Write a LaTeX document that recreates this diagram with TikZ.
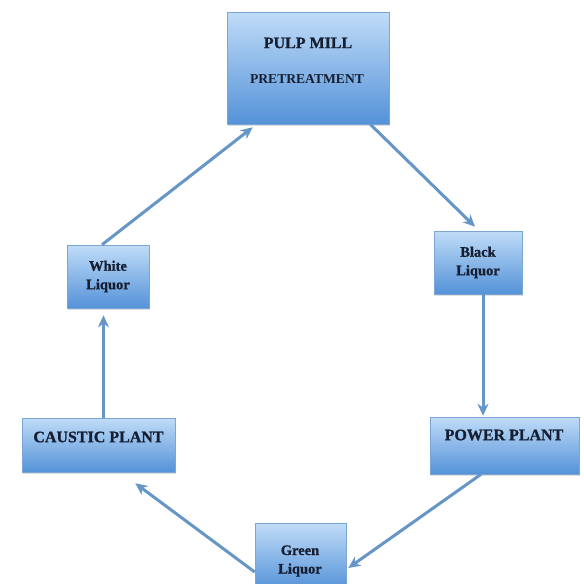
\documentclass[tikz,border=0pt]{standalone}
\usepackage{fontspec}
\setmainfont{Liberation Serif}
\newfontfamily\heavy[FakeBold=0.9]{Liberation Serif}
\usetikzlibrary{arrows.meta,shadows,calc}
\definecolor{boxtop}{RGB}{192,220,248}
\definecolor{boxbot}{RGB}{84,146,216}
\definecolor{boxedge}{RGB}{122,166,212}
\definecolor{arrowc}{RGB}{102,150,198}
\definecolor{txt}{RGB}{22,30,50}
\begin{document}
\begin{tikzpicture}[x=1pt,y=-1pt,
  box/.style={rectangle, draw=boxedge, line width=0.6pt, top color=boxtop, bottom color=boxbot,
    inner sep=0pt, drop shadow={opacity=0.25, shadow xshift=1pt, shadow yshift=-1.5pt}},
  flow/.style={draw=arrowc, line width=3pt, -{Stealth[length=12pt,width=11pt]}},
  big/.style={text=txt, font=\heavy\bfseries\fontsize{16}{18}\selectfont},
  small/.style={text=txt, font=\heavy\bfseries\fontsize{14.5}{18.5}\selectfont, align=center}]
\clip (0,0) rectangle (584,584);
\fill[white] (0,0) rectangle (584,584);
% boxes
\node[box, minimum width=162pt, minimum height=112pt] (pulp) at (308,68) {};
\node[big] (pulpt) at (308,43) {PULP MILL};
\node[text=txt, font=\bfseries\fontsize{13.6}{15}\selectfont] (pret) at (307,79) {PRETREATMENT};
\node[box, minimum width=82pt, minimum height=63pt, small] (white) at (108,276.5) {White\\Liquor};
\node[box, minimum width=88pt, minimum height=63pt, small] (black) at (478,262.5) {Black\\Liquor};
\node[box, minimum width=153pt, minimum height=54pt] (caustic) at (98.5,445) {};
\node[big] (caustict) at (98.5,437) {CAUSTIC PLANT};
\node[box, minimum width=149pt, minimum height=57pt] (power) at (504.5,445.5) {};
\node[big] (powert) at (504,435) {POWER PLANT};
\node[box, minimum width=91pt, minimum height=67pt] (green) at (300.5,556.5) {};
\node[small] (greent) at (300,561) {Green\\Liquor};
% connectors
\draw[flow] ($(white.north)+(-6,0)$) -- ($(pulp.south west)+(26,3)$);
\draw[flow] ($(pulp.south east)+(-19,0)$) -- ($(black.north)+(-3,-4)$);
\draw[flow] ($(black.south)+(5,0)$) -- ($(black.south |- power.north)+(5,-1)$);
\draw[flow] ($(power.south)+(-23.5,0)$) -- ($(green.east)+(2,11.5)$);
\draw[flow] ($(green.west)+(0,15.5)$) -- ($(caustic.south east)+(-40,11)$);
\draw[flow] ($(caustic.north)+(5,0)$) -- ($(caustic.north |- white.south)+(5,7)$);
\end{tikzpicture}
\end{document}
